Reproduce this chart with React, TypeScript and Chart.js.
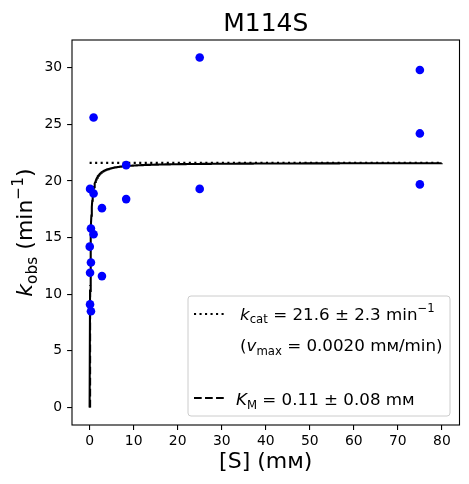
import React, { useEffect, useRef } from "react";
import { Chart, registerables } from "chart.js";
Chart.register(...registerables);

const TITLE = "M114S";
const S_MM = [0.03, 0.1, 0.1, 0.1, 0.3, 0.3, 0.3, 0.9, 0.9, 0.9, 2.8, 2.8, 8.3, 8.3, 25, 25, 75, 75, 75];
const K_OBS = [14.2, 19.3, 11.9, 9.1, 15.8, 12.8, 8.5, 25.6, 18.9, 15.3, 17.6, 11.6, 21.4, 18.4, 30.9, 19.3, 29.8, 24.2, 19.7];
const KCAT = 21.6;
const KM = 0.11;
const CURVE_X_MAX = 80;
const X_TICKS = [0, 10, 20, 30, 40, 50, 60, 70, 80];
const Y_TICKS = [0, 5, 10, 15, 20, 25, 30];

type Seg = { t: string; it?: boolean; sub?: boolean; sup?: boolean };
const FONT = '"DejaVu Sans"';
const LW = 2.08;

function segFont(s: Seg, size: number) {
  const fs = s.sub || s.sup ? size * 0.7 : size;
  return `${s.it ? "italic " : ""}${fs}px ${FONT}`;
}
function measureRich(ctx: CanvasRenderingContext2D, segs: Seg[], size: number) {
  let w = 0;
  for (const s of segs) {
    ctx.font = segFont(s, size);
    w += ctx.measureText(s.t).width;
  }
  return w;
}
function drawRich(ctx: CanvasRenderingContext2D, segs: Seg[], x: number, y: number, size: number) {
  let cx = x;
  ctx.textAlign = "left";
  ctx.textBaseline = "alphabetic";
  for (const s of segs) {
    ctx.font = segFont(s, size);
    const dy = s.sub ? size * 0.22 : s.sup ? -size * 0.42 : 0;
    ctx.fillText(s.t, cx, y + dy);
    cx += ctx.measureText(s.t).width;
  }
}

const Y_LABEL: Seg[] = [{ t: "k", it: true }, { t: "obs", sub: true }, { t: " (min" }, { t: "\u22121", sup: true }, { t: ")" }];
const X_LABEL = "[S] (m\u1D0D)";
const LEG1: Seg[] = [{ t: "k", it: true }, { t: "cat", sub: true }, { t: " = 21.6 \u00B1 2.3 min" }, { t: "\u22121", sup: true }];
const LEG2: Seg[] = [{ t: "(" }, { t: "v", it: true }, { t: "max", sub: true }, { t: " = 0.0020 m\u1D0D/min)" }];
const LEG3: Seg[] = [{ t: "K", it: true }, { t: "M", sub: true }, { t: " = 0.11 \u00B1 0.08 m\u1D0D" }];

const decor = {
  id: "decor",
  afterDraw(chart: any) {
    const ctx: CanvasRenderingContext2D = chart.ctx;
    const a = chart.chartArea;
    ctx.save();
    ctx.fillStyle = "#000";
    ctx.strokeStyle = "#000";
    ctx.lineWidth = 1.1;
    ctx.strokeRect(a.left, a.top, a.right - a.left, a.bottom - a.top);
    const cx = (a.left + a.right) / 2;
    const cy = (a.top + a.bottom) / 2;
    ctx.font = `25px ${FONT}`;
    ctx.textAlign = "center";
    ctx.textBaseline = "alphabetic";
    ctx.fillText(TITLE, cx, 31);
    ctx.font = `22px ${FONT}`;
    ctx.fillText(X_LABEL, cx, 468);
    const ys = 22;
    const w = measureRich(ctx, Y_LABEL, ys);
    ctx.save();
    ctx.translate(32, cy);
    ctx.rotate(-Math.PI / 2);
    drawRich(ctx, Y_LABEL, -w / 2, 0, ys);
    ctx.restore();
    // legend
    const lx = 188, ly = 296, lw = 262, lh = 120, r = 3;
    ctx.beginPath();
    ctx.moveTo(lx + r, ly);
    ctx.arcTo(lx + lw, ly, lx + lw, ly + lh, r);
    ctx.arcTo(lx + lw, ly + lh, lx, ly + lh, r);
    ctx.arcTo(lx, ly + lh, lx, ly, r);
    ctx.arcTo(lx, ly, lx + lw, ly, r);
    ctx.closePath();
    ctx.fillStyle = "rgba(255,255,255,0.8)";
    ctx.fill();
    ctx.strokeStyle = "#cccccc";
    ctx.lineWidth = 1;
    ctx.stroke();
    ctx.strokeStyle = "#000";
    ctx.lineWidth = LW;
    ctx.setLineDash([2.08, 3.43]);
    ctx.beginPath();
    ctx.moveTo(194, 314);
    ctx.lineTo(224, 314);
    ctx.stroke();
    ctx.setLineDash([7.7, 3.33]);
    ctx.beginPath();
    ctx.moveTo(194, 398);
    ctx.lineTo(224, 398);
    ctx.stroke();
    ctx.setLineDash([]);
    ctx.fillStyle = "#000";
    const fs = 16.7;
    drawRich(ctx, LEG1, 240, 319.5, fs);
    drawRich(ctx, LEG2, 240, 351, fs);
    drawRich(ctx, LEG3, 236, 405, fs);
    ctx.restore();
  },
};

export default function App() {
  const ref = useRef<HTMLCanvasElement>(null);
  useEffect(() => {
    document.body.style.margin = "0";
    const points = S_MM.map((x, i) => ({ x, y: K_OBS[i] }));
    const curve: { x: number; y: number }[] = [];
    for (let i = 0; i <= 800; i++) {
      const x = (i / 800) * CURVE_X_MAX;
      curve.push({ x, y: (KCAT * x) / (KM + x) });
    }
    const chart = new Chart(ref.current!, {
      type: "scatter",
      data: {
        datasets: [
          { data: points, backgroundColor: "#0000ff", borderColor: "#0000ff", pointRadius: 4.3, pointBorderWidth: 0, order: 0 } as any,
          { data: curve, showLine: true, borderColor: "#000", borderWidth: LW, pointRadius: 0, order: 1 } as any,
          { data: [{ x: 0, y: KCAT }, { x: CURVE_X_MAX, y: KCAT }], showLine: true, borderColor: "#000", borderWidth: LW, borderDash: [2.08, 3.43], pointRadius: 0, order: 2 } as any,
          { data: [{ x: KM, y: 0 }, { x: KM, y: KCAT / 2 }], showLine: true, borderColor: "#000", borderWidth: LW, borderDash: [7.7, 3.33], pointRadius: 0, order: 3 } as any,
        ],
      },
      options: {
        animation: false,
        responsive: false,
        devicePixelRatio: 1,
        layout: { padding: { top: 40, right: 9.5, left: 0, bottom: 0 } },
        plugins: { legend: { display: false }, title: { display: false }, tooltip: { enabled: false } },
        scales: {
          x: {
            type: "linear",
            min: -4,
            max: 84,
            afterBuildTicks: (s: any) => { s.ticks = X_TICKS.map((v) => ({ value: v })); },
            afterFit: (s: any) => { s.height = 59; },
            border: { display: false },
            grid: { display: true, drawOnChartArea: false, drawTicks: true, tickLength: 4.9, color: "#000", lineWidth: 1.1 },
            ticks: { color: "#000", font: { family: "DejaVu Sans", size: 13.9 }, padding: 3, maxRotation: 0 },
          },
          y: {
            type: "linear",
            min: -1.55,
            max: 32.45,
            afterBuildTicks: (s: any) => { s.ticks = Y_TICKS.map((v) => ({ value: v })); },
            afterFit: (s: any) => { s.width = 72; },
            border: { display: false },
            grid: { display: true, drawOnChartArea: false, drawTicks: true, tickLength: 4.9, color: "#000", lineWidth: 1.1 },
            ticks: { color: "#000", font: { family: "DejaVu Sans", size: 13.9 }, padding: 4.9 },
          },
        },
      } as any,
      plugins: [decor],
    });
    return () => chart.destroy();
  }, []);
  return <canvas ref={ref} width={469} height={484} style={{ display: "block" }} />;
}
